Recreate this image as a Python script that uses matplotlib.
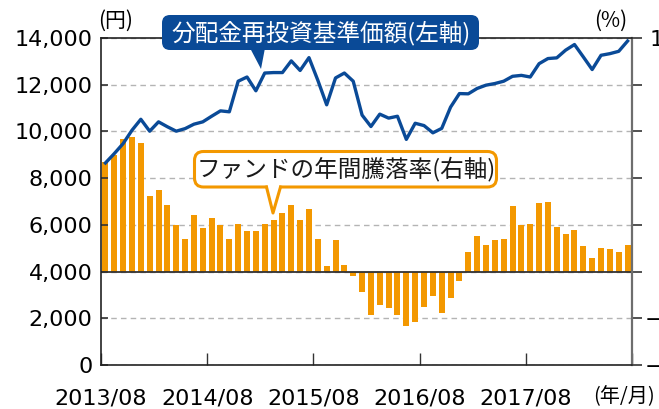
import matplotlib.pyplot as plt
import numpy as np
from matplotlib.patches import FancyBboxPatch, Polygon
from matplotlib.lines import Line2D
from matplotlib.transforms import Affine2D

# 分配金再投資基準価額 (円), monthly
nav = [8650, 9050, 9480, 10050, 10520, 10010, 10410, 10200, 10010, 10120,
       10310, 10410, 10650, 10880, 10840, 12150, 12330, 11740, 12500, 12520,
       12520, 13020, 12610, 13160, 12190, 11140, 12290, 12500, 12150, 10700,
       10210, 10740, 10570, 10650, 9660, 10350, 10250, 9940, 10130, 11040,
       11620, 11610, 11840, 11980, 12050, 12150, 12360, 12400, 12330, 12900,
       13120, 13150, 13480, 13720, 13190, 12650, 13260, 13330, 13430, 13870]

# ファンドの年間騰落率 (%)
rate = [46.9, 49.7, 56.6, 57.7, 54.9, 32.2, 35.1, 28.4, 20.1, 14.1,
        24.1, 18.8, 22.8, 20.1, 14.1, 20.5, 17.5, 17.5, 20.5, 22.2,
        25.0, 28.5, 22.1, 26.8, 14.0, 2.5, 13.6, 2.9, -1.7, -8.8,
        -18.4, -14.5, -15.7, -18.4, -23.4, -21.7, -15.3, -10.6, -17.8, -11.4,
        -4.2, 8.5, 15.4, 11.4, 13.7, 14.1, 28.1, 19.9, 20.4, 29.5,
        29.9, 19.1, 16.1, 17.8, 11.0, 6.0, 10.1, 9.7, 8.4, 11.4]

year_labels = ['2013/08', '2014/08', '2015/08', '2016/08', '2017/08', '']
left_ticks = [0, 2000, 4000, 6000, 8000, 10000, 12000, 14000]
right_ticks = [-40, -20, 0, 20, 40, 60, 80, 100]

BLUE = '#0a4a97'
ORANGE = '#f39800'
JP = ['Noto Sans CJK JP', 'DejaVu Sans']

plt.rcParams['font.family'] = ['DejaVu Sans', 'Noto Sans CJK JP']

W, H = 659, 409
fig = plt.figure(figsize=(W / 100, H / 100), dpi=100)
ax = fig.add_axes([101 / W, 1 - 365 / H, 531 / W, 327 / H])
ax2 = ax.twinx()
ax.set_zorder(ax2.get_zorder() + 1)
ax.patch.set_visible(False)

x = np.arange(len(nav))
ax2.bar(x, rate, width=0.68, color=ORANGE, zorder=2)
ax2.axhline(0, color='#333333', lw=1.3, zorder=3)
ax2.set_ylim(-40, 100)
ax2.set_yticks(right_ticks, labels=[str(v).replace('-', '\u2212') for v in right_ticks])
ax2.grid(axis='y', ls=(0, (4, 3)), color='#b4b4b4', lw=1.0)
ax2.set_axisbelow(True)
ax2.tick_params(axis='y', direction='out', length=7, width=1.2, color='#333333',
                labelsize=16, pad=36)
for t in ax2.get_yticklabels():
    t.set_horizontalalignment('right')
for s in ax2.spines.values():
    s.set_visible(False)

ax.plot(x, nav, color=BLUE, lw=2.4, zorder=5)
ax.set_ylim(0, 14000)
ax.set_xlim(-0.5, len(nav) - 0.5)
ax.set_yticks(left_ticks, labels=[f'{v:,}' for v in left_ticks])
ax.set_xticks(np.arange(len(year_labels)) * 12 - 0.5, labels=year_labels)
ax.tick_params(axis='y', direction='in', length=5, width=1.2, color='#333333',
               labelsize=16, pad=6)
ax.tick_params(axis='x', direction='in', length=9, width=1.0, color='#333333',
               labelsize=16, pad=17)
for side in ['left', 'bottom', 'top']:
    ax.spines[side].set_color('#222222')
    ax.spines[side].set_linewidth(1.2)
ax.spines['right'].set_color('#6e6e6e')
ax.spines['right'].set_linewidth(1.6)

# pixel transform (origin top-left)
T = Affine2D().scale(1 / 100, -1 / 100).translate(0, H / 100) + fig.dpi_scale_trans

fig.text(116, 21, '(円)', transform=T, ha='center', va='center', fontsize=15, family=JP)
fig.text(611, 21, '(%)', transform=T, ha='center', va='center', fontsize=15, family=JP)
fig.text(624, 397, '(年/月)', transform=T, ha='center', va='center', fontsize=14.5, family=JP)

# blue label box
fig.add_artist(FancyBboxPatch((162, 15), 317, 35, boxstyle='round,pad=0,rounding_size=8',
                              fc=BLUE, ec='none', transform=T, zorder=10))
fig.add_artist(Polygon([(250, 48), (265, 48), (261, 69)], closed=True, fc=BLUE,
                       ec='none', transform=T, zorder=10))
fig.text(321, 33, '分配金再投資基準価額(左軸)', transform=T, ha='center', va='center',
         color='white', fontsize=17, family=JP, zorder=11)

# orange label box
fig.add_artist(FancyBboxPatch((194.5, 151.5), 302, 35.5, boxstyle='round,pad=0,rounding_size=9',
                              fc='white', ec=ORANGE, lw=2.2, transform=T, zorder=10))
fig.add_artist(Polygon([(267.5, 184), (279.5, 184), (279.5, 188), (273, 212), (267.5, 188)],
                       closed=True, fc='white', ec='none', transform=T, zorder=11))
fig.add_artist(Line2D([266.5, 273, 280.5], [187, 213, 187], color=ORANGE, lw=2.2,
                      transform=T, zorder=12))
fig.text(346, 169, 'ファンドの年間騰落率(右軸)', transform=T, ha='center', va='center',
         color='#1a1a1a', fontsize=17, family=JP, zorder=13)

fig.savefig('out.png', dpi=100)
